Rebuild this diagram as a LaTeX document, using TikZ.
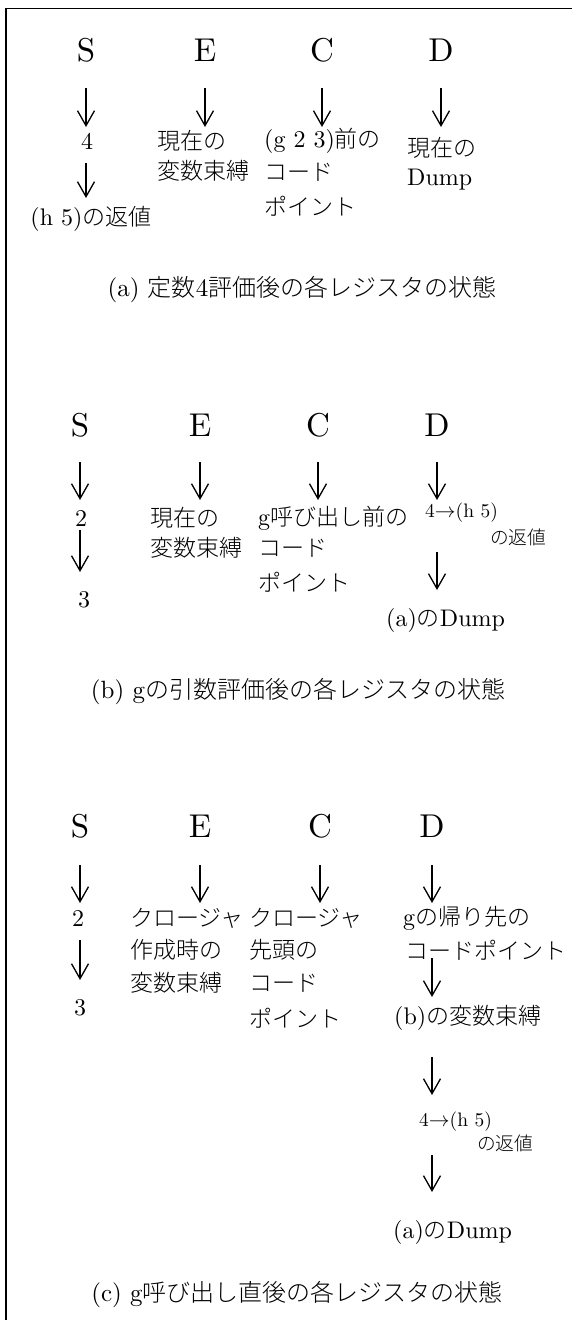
\documentclass[tikz,border=0pt]{standalone}
\usepackage{fontspec}
\setmainfont{lmroman10-regular}[Extension=.otf]
\IfFontExistsTF{Noto Sans CJK JP Light}
  {\newfontfamily\cjk{Noto Sans CJK JP Light}[Scale=0.96]}
  {\newfontfamily\cjk{Noto Sans CJK JP}[Scale=0.96]}
\usetikzlibrary{arrows.meta}
\newcommand\J[1]{{\cjk #1}}
\newcommand\conn[5]{\draw[arr,shorten <=#4pt,shorten >=#5pt] (#1.center |- #2.center) -- (#1.center |- #3.center);}
\tikzset{
  hd/.style={font=\fontsize{33}{35}\selectfont, inner sep=0pt},
  bd/.style={font=\fontsize{24}{28}\selectfont, inner sep=0pt, anchor=west},
  bdc/.style={font=\fontsize{24}{28}\selectfont, inner sep=0pt},
  sm/.style={font=\fontsize{19.5}{22}\selectfont, inner sep=0pt, anchor=west},
  captext/.style={font=\fontsize{25}{28}\selectfont, inner sep=0pt},
  arr/.style={-{Straight Barb[length=15pt,width=17pt]}, line width=1.3pt},
  frame/.style={line width=1.6pt}
}
\begin{document}
\begin{tikzpicture}[x=1pt,y=-1pt]
\useasboundingbox (0,0) rectangle (572,1320);
\draw[frame] (572,8.5) -- (6,8.5) -- (6,1320);

% ---------- (a) ----------
\node[hd] (hSa) at (86,50) {S};
\node[hd] (hEa) at (205,50) {E};
\node[hd] (hCa) at (322,50) {C};
\node[hd] (hDa) at (441,50) {D};
\node[bdc] (s4a) at (87,141) {4};
\node[bdc] (sRa) at (91,219) {(h 5)\J{の返値}};
\node[bd] (eA1) at (157,141) {\J{現在の}};
\node[bd] (eA2) at (157,171) {\J{変数束縛}};
\node[bd] (cA1) at (264,141) {(g 2 3)\J{前の}};
\node[bd] (cA2) at (264,172) {\J{コード}};
\node[bd] (cA3) at (264,206) {\J{ポイント}};
\node[bd] (dA1) at (407,148) {\J{現在の}};
\node[bd] (dA2) at (407,180) {Dump};
\node[captext] (capA) at (302,290) {(a) \J{定数}4\J{評価後の各レジスタの状態}};
\conn{hSa}{hSa}{s4a}{38}{14}
\conn{hEa}{hEa}{eA1}{38}{14}
\conn{hCa}{hCa}{cA1}{38}{14}
\conn{hDa}{hDa}{dA1}{38}{21}
\conn{hSa}{s4a}{sRa}{22}{21}

% ---------- (b) ----------
\node[hd] (hSb) at (80,425) {S};
\node[hd] (hEb) at (200,425) {E};
\node[hd] (hCb) at (318,425) {C};
\node[hd] (hDb) at (437,425) {D};
\node[bdc] (s2b) at (81,518) {2};
\node[bdc] (s3b) at (84,600) {3};
\node[bd] (eB1) at (150,518) {\J{現在の}};
\node[bd] (eB2) at (150,548) {\J{変数束縛}};
\node[bd] (cB1) at (258,518) {g\J{呼び出し前の}};
\node[bd] (cB2) at (258,548) {\J{コード}};
\node[bd] (cB3) at (258,582) {\J{ポイント}};
\node[sm] (dB1) at (425,513) {4$\rightarrow$(h 5)};
\node[sm] (dB2) at (490,537) {\J{の返値}};
\node[bd] (dB3) at (386,620) {(a)\J{の}Dump};
\node[captext] (capB) at (298,692) {(b) g\J{の引数評価後の各レジスタの状態}};
\conn{hSb}{hSb}{s2b}{37}{18}
\conn{hEb}{hEb}{eB1}{37}{18}
\conn{hCb}{hCb}{cB1}{37}{18}
\conn{hDb}{hDb}{dB1}{37}{13}
\conn{hSb}{s2b}{s3b}{12}{28}
\conn{hDb}{dB1}{dB3}{39}{30}

% ---------- (c) ----------
\node[hd] (hSc) at (80,826) {S};
\node[hd] (hEc) at (200,826) {E};
\node[hd] (hCc) at (320,826) {C};
\node[hd] (hDc) at (432,826) {D};
\node[bdc] (s2c) at (78,918) {2};
\node[bdc] (s3c) at (80,1008) {3};
\node[bd] (eC1) at (130,918) {\J{クロージャ}};
\node[bd] (eC2) at (130,950) {\J{作成時の}};
\node[bd] (eC3) at (130,983) {\J{変数束縛}};
\node[bd] (cC1) at (249,918) {\J{クロージャ}};
\node[bd] (cC2) at (249,950) {\J{先頭の}};
\node[bd] (cC3) at (249,983) {\J{コード}};
\node[bd] (cC4) at (249,1018) {\J{ポイント}};
\node[bd] (dC1) at (403,918) {g\J{の帰り先の}};
\node[bd] (dC2) at (405,950) {\J{コードポイント}};
\node[bd] (dC3) at (394,1018) {(b)\J{の変数束縛}};
\node[sm] (dC4) at (419,1122) {4$\rightarrow$(h 5)};
\node[sm] (dC5) at (477,1143) {\J{の返値}};
\node[bd] (dC6) at (393,1232) {(a)\J{の}Dump};
\node[captext] (capC) at (297,1295) {(c) g\J{呼び出し直後の各レジスタの状態}};
\conn{hSc}{hSc}{s2c}{39}{15}
\conn{hEc}{hEc}{eC1}{39}{15}
\conn{hCc}{hCc}{cC1}{39}{15}
\conn{hDc}{hDc}{dC1}{39}{15}
\conn{hSc}{s2c}{s3c}{22}{28}
\conn{hDc}{dC2}{dC3}{8}{21}
\conn{hDc}{dC3}{dC4}{39}{27}
\conn{hDc}{dC4}{dC6}{33}{40}
\end{tikzpicture}
\end{document}
